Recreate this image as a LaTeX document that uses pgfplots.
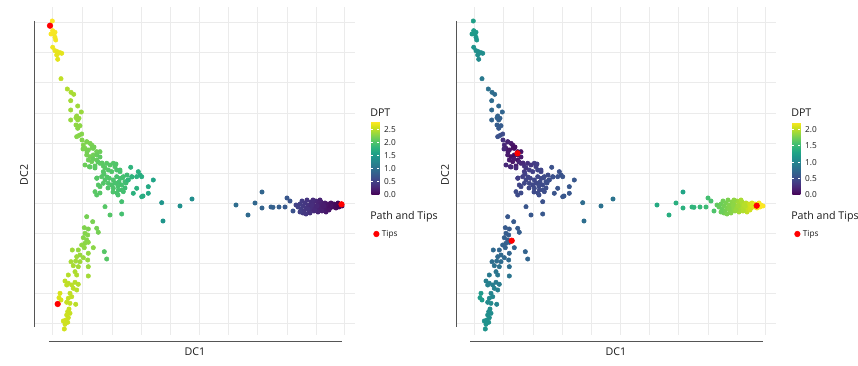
\documentclass[border=0pt]{standalone}
\usepackage{pgfplots}
\pgfplotsset{compat=1.18}
\usepackage{pgfplotstable}
\usepackage{fontspec}
\setmainfont{Open Sans}
\definecolor{gridc}{HTML}{EBEBEB}
\definecolor{axc}{HTML}{555555}
\definecolor{txt}{HTML}{1A1A1A}
\def\u{0.75pt}

% x y (pixel positions), a = DPT left panel, b = DPT right panel
\pgfplotstableread{
x y a b
52.3 21 2.77 1.25
52.7 30.7 2.76 1.22
55 32.3 2.75 1.2
51 34 2.76 1.22
54 34 2.75 1.2
55 37.3 2.74 1.18
55.7 40 2.73 1.17
52.7 47.3 2.72 1.15
55 50.7 2.70 1.12
57.3 51.7 2.69 1.1
60 52.7 2.68 1.08
61.7 53.3 2.67 1.08
58.3 53.3 2.68 1.1
56.7 55 2.68 1.1
57.7 59.3 2.66 1.05
61 78.7 2.52 0.9
67.3 89 2.45 0.82
71 92.3 2.43 0.8
73.7 94.3 2.42 0.78
70.7 100.7 2.4 0.78
77.7 106 2.38 0.74
70.7 110 2.38 0.75
81.3 112 2.36 0.72
76.7 116 2.35 0.7
76 117.7 2.35 0.7
77.7 120 2.34 0.68
79 118.3 2.34 0.68
70.7 120 2.35 0.7
76 125 2.32 0.65
78.3 126.7 2.31 0.64
80 125.7 2.31 0.64
77.7 128.3 2.3 0.62
79.3 135.3 2.28 0.55
81.7 134 2.27 0.5
76.7 136.7 2.28 0.55
86.7 141.7 2.24 0.2
90 143.3 2.22 0.15
91.7 145 2.22 0.12
83.3 145 2.25 0.25
85 148.3 2.24 0.2
88.3 150 2.22 0.12
93.3 148.3 2.2 0.08
96.7 151.7 2.18 0.05
100 151.7 2.16 0.1
86.7 155 2.22 0.15
90 156.7 2.2 0.1
93.3 155 2.18 0.06
88.3 160 2.18 0.15
91.7 161.7 2.16 0.12
96.7 160 2.14 0.1
85 165 2.16 0.25
89.3 166.7 2.13 0.2
95 166 2.1 0.18
82 140 2.26 0.3
87 142 2.24 0.22
92 148 2.2 0.1
94 147 2.19 0.08
83 149 2.23 0.25
87 152 2.2 0.15
97 155 2.14 0.08
100 157 2.1 0.15
93 159 2.14 0.15
98 162 2.1 0.2
102 163 2.07 0.25
90 167 2.1 0.25
95 168 2.08 0.25
100 163.3 2.08 0.25
103.3 166 2.07 0.3
106.7 163.3 2.06 0.3
110 165 2.05 0.35
113.3 163.3 2.03 0.38
115 166.7 2.02 0.4
116 164 2.02 0.4
103.3 171.7 2.05 0.38
108.3 170 2.04 0.4
111.7 171.7 2.02 0.42
116.7 170 2.0 0.45
120 171.7 1.98 0.45
96.7 178.3 2.05 0.4
101.7 176.7 2.05 0.42
105 180 2.03 0.45
109.3 178.3 2.02 0.45
113.3 180 2.0 0.47
116.7 176.7 1.98 0.47
120 178.3 1.97 0.48
123.3 176.7 1.95 0.5
98.3 185 2.05 0.45
103.3 183.3 2.03 0.47
108.3 183.3 2.02 0.48
111.7 185 2.0 0.48
116.7 183.3 1.98 0.5
121.7 185 1.96 0.5
125 181.7 1.94 0.52
128.3 180 1.9 0.52
100 186.7 2.05 0.47
95 191.7 2.07 0.5
96.7 195 2.06 0.5
113.3 188.3 2.0 0.5
118.3 190 1.98 0.5
123.3 191.7 1.95 0.52
117 193 1.98 0.5
100 193 2.05 0.5
105 168 2.07 0.35
120 170 1.98 0.45
97 178 2.05 0.4
107 177 2.03 0.45
119 182 1.97 0.5
122 178 1.96 0.5
112 185 2.0 0.48
115 183 1.98 0.48
118 186 1.98 0.5
127 175 1.92 0.5
126 183 1.92 0.52
125 188 1.9 0.52
122 190 1.95 0.52
113 192 2.0 0.5
118 195 1.98 0.52
108 188 2.02 0.48
104 174 2.04 0.42
130.7 167.3 1.8 0.55
138.3 171.7 1.76 0.55
140 175 1.74 0.56
136.7 176.7 1.76 0.56
131.7 176.7 1.8 0.55
141.7 176.7 1.73 0.57
153.3 180 1.62 0.6
148.3 186.7 1.68 0.6
148.3 193.3 1.68 0.6
141.7 196.7 1.73 0.6
136.7 188.3 1.78 0.57
133.3 193.3 1.78 0.57
128 180 1.83 0.53
132 177 1.8 0.55
143 196 1.72 0.6
121.7 201.7 1.95 0.55
105 206.7 2.05 0.58
110 215 2.03 0.6
121.7 214 1.95 0.6
161.7 202.7 1.45 0.78
163 221 1.45 0.8
180 206 1.4 0.82
192 199 1.37 0.85
236 205 0.98 1.35
248 215 0.95 1.38
255 203 0.92 1.4
262 192 0.9 1.3
262 208 0.88 1.42
271 207 0.85 1.45
273 207.3 0.84 1.45
279 207 0.82 1.48
285 207 0.78 1.52
287 198 0.75 1.55
290 201 0.72 1.58
293 211 0.7 1.6
296 205 0.55 1.68
298 207 0.52 1.7
300 204 0.5 1.72
301 209 0.5 1.72
302 201 0.48 1.74
303 206 0.47 1.75
304 211 0.46 1.75
305 203 0.45 1.76
306 208 0.44 1.78
307 200 0.42 1.78
308 205 0.42 1.8
309 212 0.4 1.8
310 207 0.38 1.82
311 202 0.37 1.83
312 209 0.36 1.84
313 204 0.35 1.85
314 211 0.33 1.86
315 206 0.32 1.88
316 201 0.31 1.9
317 208 0.3 1.9
318 204 0.28 1.92
319 210 0.27 1.93
320 206 0.26 1.94
321 202 0.25 1.95
322 208 0.23 1.96
323 205 0.22 1.98
324 210 0.21 1.98
325 203 0.2 2.0
326 207 0.18 2.02
327 209 0.17 2.03
328 204 0.16 2.05
329 206 0.15 2.06
330 208 0.13 2.08
331 203 0.12 2.1
332 205 0.1 2.12
333 207 0.09 2.14
334 204 0.08 2.15
335 206 0.07 2.17
336 208 0.06 2.18
337 205 0.05 2.19
338 203 0.04 2.2
339 207 0.03 2.21
340 205 0.02 2.21
303 213 0.46 1.75
310 213 0.39 1.82
318 212 0.28 1.92
326 212 0.18 2.02
313 200 0.35 1.85
320 200 0.26 1.94
306 214 0.44 1.78
300 212 0.5 1.72
315 210 0.32 1.88
322 211 0.23 1.96
329 210 0.15 2.06
308 209 0.42 1.8
312 205 0.36 1.84
317 206 0.3 1.9
324 206 0.21 1.98
331 206 0.12 2.1
342 206 0.01 2.22
86.7 216.7 2.2 0.6
92.7 221.7 2.22 0.62
84.3 227.7 2.25 0.62
88.3 229 2.24 0.62
96.7 228.3 2.2 0.63
98.3 232.3 2.2 0.65
85 233.3 2.27 0.64
87.7 235 2.27 0.64
83.3 237.7 2.28 0.66
86.7 240 2.28 0.66
85 243.3 2.3 0.68
88.3 242.3 2.3 0.67
81.7 245 2.32 0.7
93.3 247.7 2.3 0.7
84.3 247.7 2.32 0.7
104.3 251.7 2.05 0.7
106.7 259 2.05 0.72
72.3 250 2.38 0.75
78.3 250 2.35 0.73
88.3 253.3 2.33 0.72
80 255 2.36 0.75
76.7 256.7 2.38 0.76
83.3 257.7 2.36 0.75
71 261.7 2.42 0.8
75.7 261 2.4 0.8
80 261.7 2.38 0.78
87.7 260 2.35 0.76
73.3 265.7 2.42 0.82
78.3 266.7 2.4 0.82
88.3 266.7 2.36 0.8
75 271.7 2.44 0.86
76.7 275 2.45 0.88
88.3 276 2.4 0.85
68.3 275 2.48 0.9
65 281 2.52 0.95
68.3 283.3 2.5 0.95
66.7 285 2.52 0.97
71.7 285 2.5 0.95
75 282.3 2.48 0.92
78.3 284.3 2.47 0.92
76.7 290 2.48 0.95
73.3 288.3 2.5 0.97
60 293.3 2.62 1.2
59 297.7 2.63 1.22
61 300 2.62 1.2
70 293.3 2.52 1.0
71.7 296.7 2.52 1.02
68.3 298.3 2.54 1.04
66.7 302.3 2.55 1.06
70 303.3 2.54 1.05
75.7 304.3 2.5 1.0
69 309 2.55 1.08
67.7 311.7 2.56 1.08
70 313.3 2.55 1.08
66.7 315 2.57 1.1
68.3 317.7 2.56 1.1
65.7 320 2.58 1.12
63.3 321 2.59 1.12
67.7 322.3 2.57 1.12
65 324.3 2.58 1.14
64.3 329 2.59 1.15
}\cells

\pgfplotsset{
  dcpanel/.style={
    scale only axis, width=320*\u, height=328*\u,
    xmin=35, xmax=355, ymin=-335, ymax=-7,
    clip=false,
    axis line style={draw=none},
    xtick={53,82.5,112,141,170,199,228,257.5,287,316,344},
    ytick={-324,-294,-264,-234,-204,-174,-144,-114,-83,-53,-23},
    xticklabels={}, yticklabels={},
    major tick length=0pt,
    grid=major, grid style={gridc, line width=0.75pt},
    colormap name=viridis,
    colorbar,
    colorbar style={
      at={(parent axis.north east)}, anchor=north west,
      xshift=5*\u, yshift=-115*\u,
      width=8*\u, height=73*\u,
      axis line style={draw=none},
      ytick pos=both, yticklabel pos=right,
      tick align=inside, major tick length=2*\u,
      major tick style={white, line width=0.6pt},
      yticklabel style={font=\fontsize{6.2}{7}\selectfont, text=txt, xshift=0pt,
        /pgf/number format/.cd, fixed, fixed zerofill, precision=1, assume math mode=true},
    },
    legend style={draw=none, fill=none, at={(axis cs:372,-234)}, anchor=west,
      font=\fontsize{6.2}{7}\selectfont, text=txt, inner sep=1pt},
    legend cell align=left,
  },
  pts/.style={scatter, only marks, mark=*, mark size=1.65pt, scatter src=explicit, forget plot,
    scatter/use mapped color={draw=mapped color, fill=mapped color}},
}

\begin{document}
\begin{tikzpicture}
\path[use as bounding box] (0,0) rectangle (858*\u,-366*\u);

% ---------- left panel ----------
\begin{axis}[dcpanel, at={(35*\u,-335*\u)}, anchor=south west,
  point meta min=0, point meta max=2.78,
  colorbar style={ytick={0,0.5,1,1.5,2,2.5}}]
\addplot[pts] table[x=x, y expr=-\thisrow{y}, meta=a] {\cells};
\addplot[forget plot, no marks, axc, line width=0.75pt] coordinates {(35,-21) (35,-327)};
\addplot[forget plot, no marks, axc, line width=0.75pt] coordinates {(49,-342) (342,-342)};
\addplot[only marks, mark=*, mark size=2.1pt, color=red, mark options={fill=red, draw=red}]
  coordinates {(50,-25.7) (57.7,-304) (341.5,-204.3)};
\addlegendentry{Tips}
\node[font=\fontsize{8}{9}\selectfont, text=txt] at (axis cs:195,-352) {DC1};
\node[font=\fontsize{8}{9}\selectfont, text=txt, rotate=90] at (axis cs:24,-175) {DC2};
\node[font=\fontsize{8}{9}\selectfont, text=txt, anchor=west, inner sep=0pt] at (axis cs:370,-113) {DPT};
\node[font=\fontsize{8}{9}\selectfont, text=txt, anchor=west, inner sep=0pt] at (axis cs:370,-217) {Path and Tips};
\end{axis}

% ---------- right panel ----------
\begin{axis}[dcpanel, at={(456*\u,-335*\u)}, anchor=south west,
  point meta min=0, point meta max=2.22,
  colorbar style={ytick={0,0.5,1,1.5,2}}]
\addplot[pts] table[x=x, y expr=-\thisrow{y}, meta=b] {\cells};
\addplot[forget plot, no marks, axc, line width=0.75pt] coordinates {(35,-21) (35,-327)};
\addplot[forget plot, no marks, axc, line width=0.75pt] coordinates {(49,-342) (342,-342)};
\addplot[only marks, mark=*, mark size=2.1pt, color=red, mark options={fill=red, draw=red}]
  coordinates {(96.5,-153.3) (90.7,-240.7) (335.7,-205.7)};
\addlegendentry{Tips}
\node[font=\fontsize{8}{9}\selectfont, text=txt] at (axis cs:195,-352) {DC1};
\node[font=\fontsize{8}{9}\selectfont, text=txt, rotate=90] at (axis cs:24,-175) {DC2};
\node[font=\fontsize{8}{9}\selectfont, text=txt, anchor=west, inner sep=0pt] at (axis cs:370,-113) {DPT};
\node[font=\fontsize{8}{9}\selectfont, text=txt, anchor=west, inner sep=0pt] at (axis cs:370,-217) {Path and Tips};
\end{axis}
\end{tikzpicture}
\end{document}
